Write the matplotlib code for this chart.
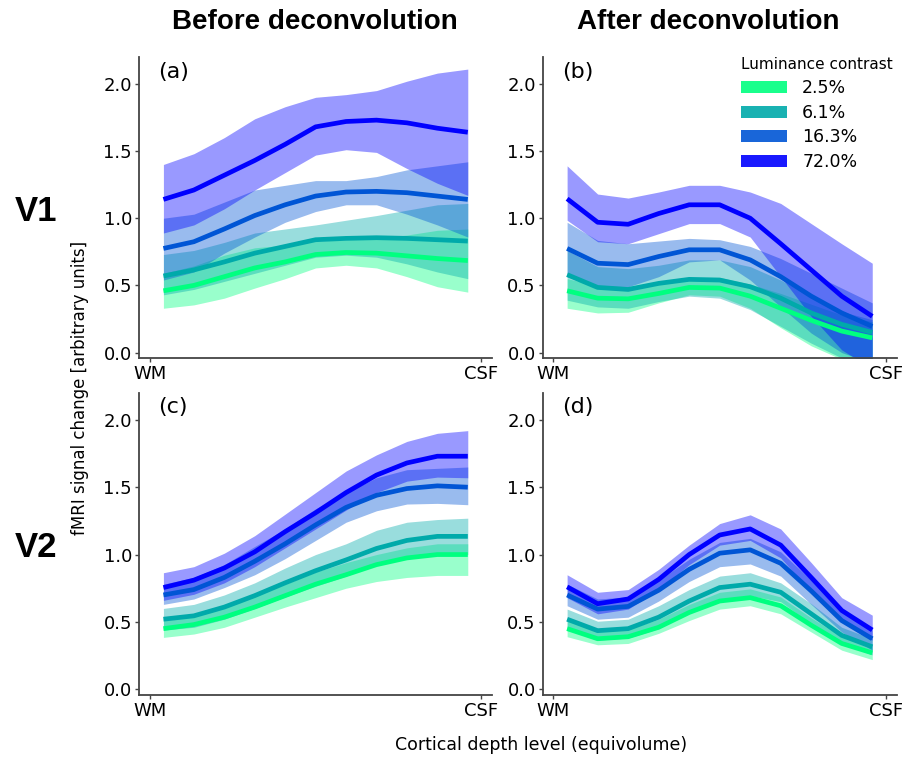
import matplotlib
matplotlib.use("Agg")
import matplotlib.pyplot as plt
from matplotlib.patches import Patch
import numpy as np

# 11 cortical depth levels, WM -> CSF
depth = np.arange(11)
contrasts = ["2.5%", "6.1%", "16.3%", "72.0%"]

# ---- (a) V1 before deconvolution: mean, lower, upper per contrast ----
a_mean = [
    [0.46, 0.50, 0.565, 0.63, 0.675, 0.73, 0.745, 0.74, 0.72, 0.70, 0.685],
    [0.57, 0.615, 0.675, 0.74, 0.79, 0.84, 0.85, 0.855, 0.85, 0.84, 0.83],
    [0.775, 0.825, 0.92, 1.02, 1.10, 1.165, 1.195, 1.20, 1.19, 1.165, 1.14],
    [1.14, 1.21, 1.32, 1.43, 1.55, 1.68, 1.72, 1.73, 1.71, 1.67, 1.64],
]
a_low = [
    [0.33, 0.355, 0.405, 0.48, 0.55, 0.63, 0.65, 0.63, 0.565, 0.49, 0.45],
    [0.43, 0.47, 0.53, 0.59, 0.65, 0.71, 0.725, 0.71, 0.66, 0.60, 0.55],
    [0.54, 0.60, 0.74, 0.86, 0.97, 1.05, 1.10, 1.10, 1.03, 0.95, 0.86],
    [0.89, 0.95, 1.07, 1.21, 1.34, 1.47, 1.51, 1.49, 1.37, 1.26, 1.17],
]
a_high = [
    [0.59, 0.645, 0.725, 0.78, 0.80, 0.83, 0.84, 0.85, 0.875, 0.91, 0.92],
    [0.73, 0.76, 0.82, 0.89, 0.92, 0.95, 0.985, 1.02, 1.06, 1.10, 1.11],
    [1.0, 1.03, 1.12, 1.21, 1.245, 1.28, 1.28, 1.31, 1.36, 1.39, 1.42],
    [1.40, 1.48, 1.60, 1.74, 1.83, 1.90, 1.92, 1.95, 2.02, 2.08, 2.11],
]

# ---- (b) V1 after deconvolution ----
b_mean = [
    [0.46, 0.405, 0.40, 0.44, 0.485, 0.48, 0.42, 0.33, 0.24, 0.16, 0.11],
    [0.58, 0.485, 0.47, 0.515, 0.545, 0.54, 0.49, 0.405, 0.295, 0.21, 0.15],
    [0.775, 0.665, 0.655, 0.715, 0.765, 0.765, 0.69, 0.565, 0.42, 0.295, 0.195],
    [1.145, 0.97, 0.955, 1.035, 1.10, 1.10, 1.0, 0.81, 0.615, 0.42, 0.27],
]
b_low = [
    [0.33, 0.295, 0.30, 0.37, 0.43, 0.42, 0.33, 0.185, 0.05, -0.05, -0.12],
    [0.39, 0.34, 0.33, 0.38, 0.42, 0.405, 0.32, 0.195, 0.07, -0.04, -0.125],
    [0.565, 0.49, 0.49, 0.565, 0.675, 0.69, 0.54, 0.34, 0.145, 0.0, -0.08],
    [0.985, 0.825, 0.81, 0.885, 0.96, 0.96, 0.86, 0.565, 0.27, 0.02, -0.12],
]
b_high = [
    [0.55, 0.50, 0.49, 0.53, 0.56, 0.56, 0.51, 0.44, 0.36, 0.28, 0.23],
    [0.76, 0.64, 0.625, 0.65, 0.69, 0.69, 0.64, 0.54, 0.42, 0.305, 0.245],
    [0.97, 0.835, 0.81, 0.83, 0.85, 0.84, 0.79, 0.70, 0.59, 0.48, 0.37],
    [1.39, 1.18, 1.15, 1.195, 1.245, 1.245, 1.195, 1.11, 0.96, 0.81, 0.665],
]

# ---- (c) V2 before deconvolution ----
c_mean = [
    [0.45, 0.48, 0.535, 0.61, 0.695, 0.78, 0.85, 0.925, 0.975, 1.0, 1.0],
    [0.52, 0.545, 0.61, 0.695, 0.79, 0.88, 0.96, 1.045, 1.105, 1.135, 1.135],
    [0.70, 0.74, 0.83, 0.95, 1.08, 1.22, 1.35, 1.44, 1.49, 1.51, 1.50],
    [0.755, 0.81, 0.90, 1.02, 1.17, 1.31, 1.46, 1.59, 1.68, 1.73, 1.73],
]
c_low = [
    [0.385, 0.41, 0.46, 0.535, 0.61, 0.68, 0.75, 0.80, 0.83, 0.845, 0.845],
    [0.44, 0.46, 0.52, 0.60, 0.685, 0.765, 0.84, 0.925, 0.97, 1.0, 1.0],
    [0.63, 0.67, 0.755, 0.85, 0.97, 1.105, 1.24, 1.325, 1.375, 1.38, 1.37],
    [0.66, 0.705, 0.79, 0.91, 1.05, 1.19, 1.33, 1.46, 1.545, 1.575, 1.57],
]
c_high = [
    [0.52, 0.55, 0.61, 0.69, 0.78, 0.87, 0.94, 1.0, 1.05, 1.08, 1.08],
    [0.60, 0.63, 0.70, 0.79, 0.90, 1.0, 1.08, 1.18, 1.24, 1.26, 1.27],
    [0.78, 0.83, 0.925, 1.06, 1.19, 1.34, 1.46, 1.57, 1.63, 1.64, 1.65],
    [0.865, 0.91, 1.01, 1.14, 1.30, 1.46, 1.62, 1.74, 1.84, 1.90, 1.92],
]

# ---- (d) V2 after deconvolution ----
d_mean = [
    [0.45, 0.375, 0.39, 0.46, 0.57, 0.655, 0.68, 0.62, 0.475, 0.34, 0.27],
    [0.52, 0.435, 0.45, 0.535, 0.655, 0.755, 0.78, 0.72, 0.56, 0.40, 0.315],
    [0.70, 0.595, 0.615, 0.735, 0.89, 1.01, 1.035, 0.935, 0.73, 0.51, 0.375],
    [0.76, 0.635, 0.67, 0.815, 1.0, 1.145, 1.19, 1.07, 0.83, 0.585, 0.44],
]
d_low = [
    [0.39, 0.33, 0.34, 0.415, 0.51, 0.595, 0.62, 0.56, 0.425, 0.29, 0.22],
    [0.445, 0.365, 0.38, 0.45, 0.57, 0.67, 0.695, 0.65, 0.485, 0.34, 0.255],
    [0.62, 0.52, 0.535, 0.655, 0.80, 0.91, 0.93, 0.84, 0.63, 0.425, 0.29],
    [0.68, 0.56, 0.595, 0.74, 0.925, 1.07, 1.105, 0.975, 0.72, 0.50, 0.365],
]
d_high = [
    [0.51, 0.43, 0.445, 0.52, 0.63, 0.72, 0.745, 0.685, 0.53, 0.39, 0.32],
    [0.595, 0.505, 0.52, 0.62, 0.74, 0.84, 0.865, 0.79, 0.635, 0.46, 0.375],
    [0.78, 0.67, 0.685, 0.81, 0.965, 1.09, 1.12, 1.02, 0.81, 0.575, 0.44],
    [0.85, 0.72, 0.74, 0.89, 1.07, 1.23, 1.295, 1.19, 0.94, 0.68, 0.55],
]

panels = [
    ("(a)", a_mean, a_low, a_high),
    ("(b)", b_mean, b_low, b_high),
    ("(c)", c_mean, c_low, c_high),
    ("(d)", d_mean, d_low, d_high),
]

# winter colormap: green for low contrast, blue for high contrast
colors = [plt.cm.winter(v) for v in [1.0, 2 / 3, 1 / 3, 0.0]]

fig = plt.figure(figsize=(9.03, 7.6), dpi=100)
boxes = [
    [0.154, 0.529, 0.391, 0.396],
    [0.601, 0.529, 0.392, 0.396],
    [0.154, 0.086, 0.391, 0.397],
    [0.601, 0.086, 0.392, 0.397],
]

for box, (tag, mean, low, high) in zip(boxes, panels):
    ax = fig.add_axes(box)
    for i in range(4):
        ax.fill_between(depth, low[i], high[i], color=colors[i], alpha=0.4, lw=0)
        ax.plot(depth, mean[i], color=colors[i], lw=3.4, solid_capstyle="butt")
    ax.set_xlim(-0.8, 10.8)
    ax.set_ylim(-0.04, 2.2)
    ax.set_yticks([0.0, 0.5, 1.0, 1.5, 2.0])
    ax.set_yticklabels(["0.0", "0.5", "1.0", "1.5", "2.0"])
    ax.set_xticks([-0.45, 10.45])
    ax.set_xticklabels(["WM", "CSF"])
    ax.tick_params(labelsize=13, length=3, width=1, color="#444444", pad=2)
    for s in ["top", "right"]:
        ax.spines[s].set_visible(False)
    for s in ["left", "bottom"]:
        ax.spines[s].set_color("#444444")
        ax.spines[s].set_linewidth(1.3)
    ax.text(0.055, 0.985, tag, transform=ax.transAxes, fontsize=16,
            ha="left", va="top")
    if tag == "(b)":
        handles = [Patch(facecolor=c, edgecolor="none", alpha=0.9) for c in colors]
        leg = ax.legend(handles, contrasts, title="Luminance contrast",
                        loc="upper right", bbox_to_anchor=(1.0, 1.01),
                        frameon=False, fontsize=12.5, title_fontsize=11,
                        handlelength=2.6, handleheight=0.7,
                        handletextpad=0.9, labelspacing=0.38,
                        borderaxespad=0, borderpad=0.2)
        leg._legend_box.align = "left"

title_font = dict(family=["Liberation Sans", "DejaVu Sans"], weight="bold")
fig.text(0.349, 0.971, "Before deconvolution", fontsize=20, ha="center",
         va="center", **title_font)
fig.text(0.784, 0.971, "After deconvolution", fontsize=20, ha="center",
         va="center", **title_font)
fig.text(0.04, 0.722, "V1", fontsize=25, ha="center", va="center", **title_font)
fig.text(0.04, 0.279, "V2", fontsize=25, ha="center", va="center", **title_font)

fig.text(0.089, 0.49, "fMRI signal change [arbitrary units]", fontsize=12,
         rotation=90, ha="center", va="center")
fig.text(0.599, 0.02, "Cortical depth level (equivolume)", fontsize=12.5,
         ha="center", va="center")

fig.savefig("out.png", dpi=100)
